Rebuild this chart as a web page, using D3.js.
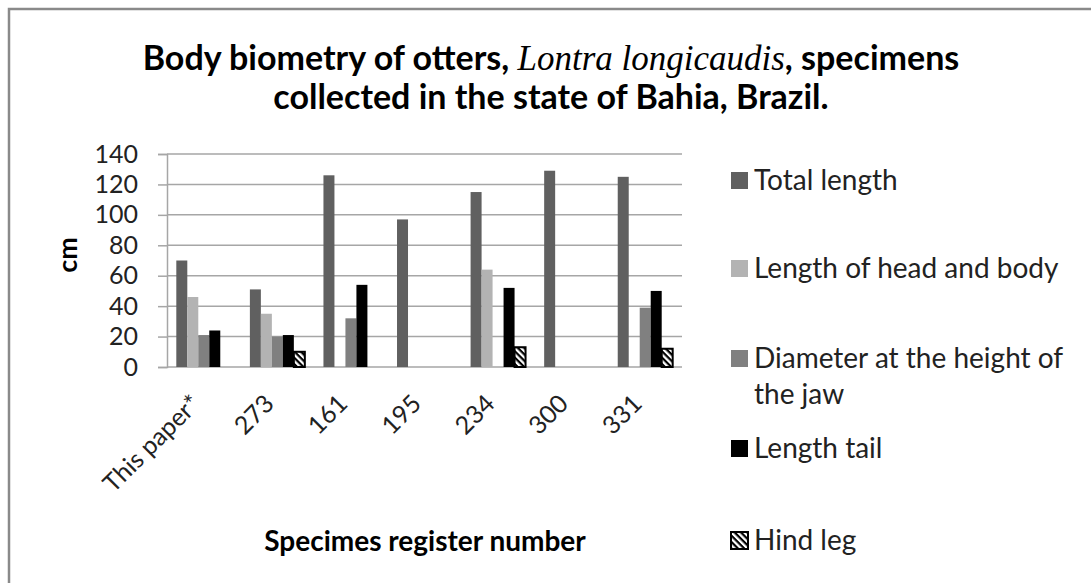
<!DOCTYPE html>
<html>
<head>
<meta charset="utf-8">
<script src="https://cdn.jsdelivr.net/npm/d3@7"></script>
<style>
  body { margin: 0; background: #fff; }
  svg { display: block; }
</style>
</head>
<body>
<div id="chart"></div>
<script>
// Categories and series (null = no bar)
var specimens = ["This paper*", "273", "161", "195", "234", "300", "331"];
var seriesNames = ["Total length", "Length of head and body", "Diameter at the height of the jaw", "Length tail", "Hind leg"];
var totalLength = [70, 51, 126, 97, 115, 129, 125];
var headBody    = [46, 35, null, null, 64, null, null];
var jawDiameter = [21, 20, 32, null, null, null, 39];
var tailLength  = [24, 21, 54, null, 52, null, 50];
var hindLeg     = [null, 10, null, null, 13, null, 12];
var yTicks = [0, 20, 40, 60, 80, 100, 120, 140];

var allSeries = [totalLength, headBody, jawDiameter, tailLength, hindLeg];
var fills = ["#606060", "#b3b3b3", "#808080", "#000000", "url(#hatch)"];

var width = 1091, height = 583;
var font = "Lato, 'Open Sans', sans-serif";

var svg = d3.select("#chart").append("svg")
    .attr("width", width)
    .attr("height", height);

// hatch pattern for the hind leg bars
var defs = svg.append("defs");
var pat = defs.append("pattern")
    .attr("id", "hatch")
    .attr("patternUnits", "userSpaceOnUse")
    .attr("width", 4.5)
    .attr("height", 4.5)
    .attr("patternTransform", "rotate(45)");
pat.append("rect").attr("width", 4.5).attr("height", 4.5).attr("fill", "#fff");
pat.append("rect").attr("width", 4.5).attr("height", 2.2).attr("fill", "#000");

// outer frame (only top and left edges show)
svg.append("rect")
    .attr("x", 9).attr("y", 9)
    .attr("width", width + 20).attr("height", height + 20)
    .attr("fill", "none")
    .attr("stroke", "#8a8a8a")
    .attr("stroke-width", 2.5);

// title
var title = svg.append("text")
    .attr("text-anchor", "middle")
    .attr("font-family", font)
    .attr("font-weight", "bold")
    .attr("font-size", 34)
    .attr("fill", "#000");
var line1 = title.append("tspan").attr("x", 551).attr("y", 70);
line1.append("tspan").text("Body biometry of otters, ");
line1.append("tspan")
    .attr("font-family", "'Liberation Serif', serif")
    .attr("font-style", "italic")
    .attr("font-weight", "normal")
    .attr("font-size", 35)
    .text("Lontra longicaudis");
line1.append("tspan").text(", specimens");
title.append("tspan").attr("x", 551).attr("y", 109).text("collected in the state of Bahia,  Brazil.");

// plot area
var plot = { left: 167, right: 682, top: 154, bottom: 367 };

var y = d3.scaleLinear()
    .domain([0, 140])
    .range([plot.bottom, plot.top]);

var x0 = d3.scaleBand()
    .domain(specimens)
    .range([plot.left, plot.right])
    .paddingInner(0.253)
    .paddingOuter(0.1265);

var x1 = d3.scaleBand()
    .domain(d3.range(seriesNames.length))
    .range([0, x0.bandwidth()]);

// gridlines + y axis
var yAxis = svg.append("g")
    .attr("transform", "translate(" + plot.left + ",0)")
    .call(d3.axisLeft(y).tickValues(yTicks).tickSize(9).tickPadding(20));
yAxis.select(".domain").attr("stroke", "#a6a6a6").attr("stroke-width", 1.5);
yAxis.selectAll(".tick line").attr("stroke", "#a6a6a6").attr("stroke-width", 1.5);
yAxis.selectAll(".tick text")
    .attr("font-family", font)
    .attr("font-size", 25)
    .attr("fill", "#222");

svg.append("g")
    .selectAll("line")
    .data(yTicks)
    .enter().append("line")
    .attr("x1", plot.left)
    .attr("x2", plot.right)
    .attr("y1", function(d) { return y(d); })
    .attr("y2", function(d) { return y(d); })
    .attr("stroke", "#a6a6a6")
    .attr("stroke-width", 1.5);

// bars
var groups = svg.append("g")
    .selectAll("g")
    .data(specimens)
    .enter().append("g")
    .attr("transform", function(d) { return "translate(" + x0(d) + ",0)"; });

groups.selectAll("rect")
    .data(function(d, i) {
        return allSeries.map(function(s, k) { return { k: k, v: s[i] }; })
            .filter(function(e) { return e.v != null; });
    })
    .enter().append("rect")
    .attr("x", function(d) { return x1(d.k); })
    .attr("y", function(d) { return y(d.v); })
    .attr("width", x1.bandwidth())
    .attr("height", function(d) { return y(0) - y(d.v); })
    .attr("fill", function(d) { return fills[d.k]; })
    .attr("stroke", function(d) { return d.k == 4 ? "#000" : "none"; })
    .attr("stroke-width", 2);

// category labels, rotated
svg.append("g")
    .selectAll("text")
    .data(specimens)
    .enter().append("text")
    .attr("transform", function(d) {
        return "translate(" + (x0(d) + x0.bandwidth() / 2 - 8) + "," + (plot.bottom + 32) + ") rotate(-45)";
    })
    .attr("text-anchor", "end")
    .attr("dy", "0.35em")
    .attr("font-family", font)
    .attr("font-size", 25)
    .attr("fill", "#222")
    .text(function(d) { return d; });

// axis titles
svg.append("text")
    .attr("x", 425)
    .attr("y", 551)
    .attr("text-anchor", "middle")
    .attr("font-family", font)
    .attr("font-weight", "bold")
    .attr("font-size", 28)
    .text("Specimes register number");

svg.append("text")
    .attr("transform", "translate(77,255) rotate(-90)")
    .attr("text-anchor", "middle")
    .attr("font-family", font)
    .attr("font-weight", "bold")
    .attr("font-size", 27)
    .text("cm");

// legend
var legendY = [180, 268, 358, 448, 540];
var legendLines = [["Total length"], ["Length of head and body"], ["Diameter at the height of", "the jaw"], ["Length tail"], ["Hind leg"]];
var legend = svg.append("g")
    .selectAll("g")
    .data(seriesNames)
    .enter().append("g")
    .attr("transform", function(d, i) { return "translate(731," + legendY[i] + ")"; });

legend.append("rect")
    .attr("x", 0)
    .attr("y", -8)
    .attr("width", 17)
    .attr("height", 17)
    .attr("fill", function(d, i) { return fills[i]; })
    .attr("stroke", function(d, i) { return i == 4 ? "#000" : "none"; })
    .attr("stroke-width", 2);

legend.append("text")
    .attr("font-family", font)
    .attr("font-size", 28)
    .attr("fill", "#222")
    .selectAll("tspan")
    .data(function(d, i) { return legendLines[i]; })
    .enter().append("tspan")
    .attr("x", 23)
    .attr("y", function(d, j) { return j * 36; })
    .attr("dy", "0.35em")
    .text(function(d) { return d; });
</script>
</body>
</html>
